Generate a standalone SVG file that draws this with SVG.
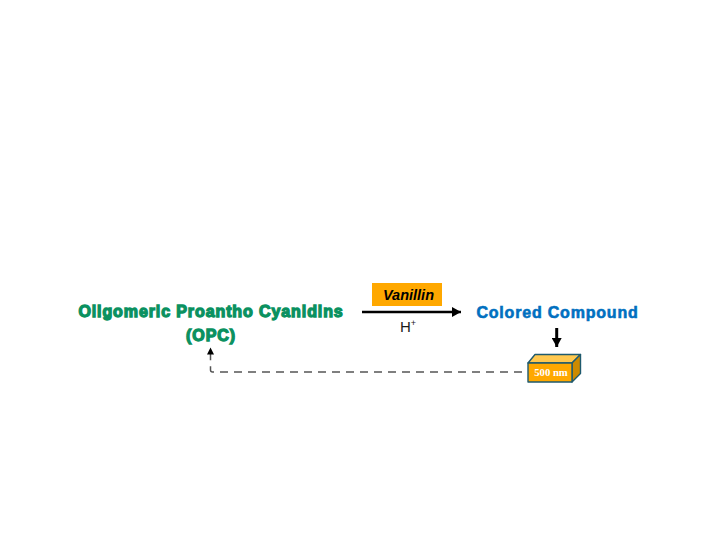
<svg xmlns="http://www.w3.org/2000/svg" width="721" height="537" viewBox="0 0 721 537">
<style>
text{font-family:"Liberation Sans",Arial,sans-serif}
.g{font-size:16px;font-weight:700;fill:#0a9160;stroke:#0a9160;stroke-width:1.300px;text-anchor:middle;letter-spacing:.9px}
.b{font-size:16px;font-weight:700;fill:#0070c0;stroke:#0070c0;stroke-width:.6px;text-anchor:middle;letter-spacing:.8px}
.box{stroke:#1f5a6e;stroke-width:1.4;stroke-linejoin:round}
</style>
<defs>
<marker id="ah" markerUnits="userSpaceOnUse" markerWidth="10" markerHeight="10" refX="9" refY="5" orient="auto"><path d="M0 0L9 5L0 10Z" fill="#000"/></marker>
<marker id="as" markerUnits="userSpaceOnUse" markerWidth="8" markerHeight="8" refX="7" refY="3.500" orient="auto"><path d="M0 0L7 3.500L0 7Z" fill="#000"/></marker>
</defs>
<rect width="721" height="537" fill="#fff"/>
<g id="connectors" fill="none">
<path id="c-react" d="M362 312H461" stroke="#000" stroke-width="2.600" marker-end="url(#ah)"/>
<path id="c-down" d="M556.700 328V347" stroke="#000" stroke-width="3" marker-end="url(#ah)"/>
<path id="c-return" d="M527 372H212.500Q210.500 372 210.500 370V347.500" stroke="#555" stroke-width="1.500" stroke-dasharray="8 6" stroke-dashoffset="9" marker-end="url(#as)"/>
</g>
<g id="node-opc">
<text class="g" x="211" y="317">Oligomeric Proantho Cyanidins</text>
<text class="g" x="211" y="341">(OPC)</text>
</g>
<g id="node-vanillin">
<rect x="372" y="283" width="70" height="23" fill="#ffa800"/>
<text x="408.500" y="300" font-size="14.500" font-weight="700" font-style="italic" text-anchor="middle" fill="#000">Vanillin</text>
</g>
<g id="node-acid">
<text x="400" y="332" font-size="15" fill="#1a1a1a">H<tspan font-size="9" dy="-6">+</tspan></text>
</g>
<g id="node-compound">
<text class="b" x="557.500" y="318">Colored Compound</text>
</g>
<g id="node-500nm">
<path class="box" d="M528 363L535 354.500H580.500L572 363Z" fill="#ffc84f"/>
<path class="box" d="M572 363L580.500 354.500V373.500L572 382Z" fill="#cc8a00"/>
<rect class="box" x="528" y="363" width="44" height="19" fill="#ffa800"/>
<text x="551" y="376" font-size="10.700" font-weight="700" text-anchor="middle" fill="#fff" style="font-family:'Liberation Serif',serif">500 nm</text>
</g>
</svg>
